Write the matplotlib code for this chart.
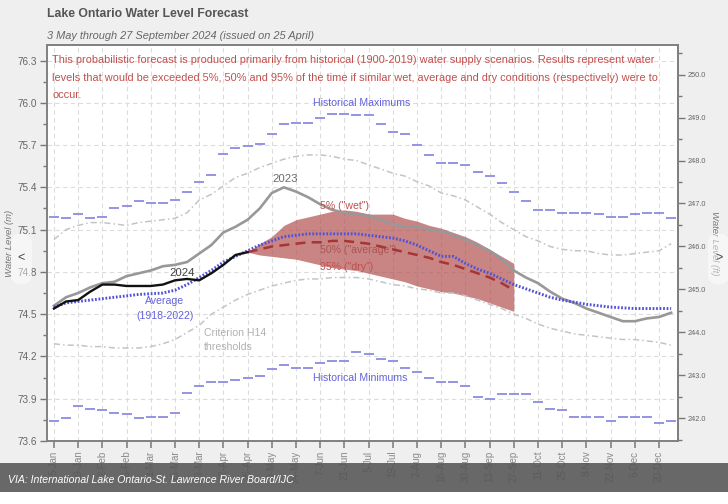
import matplotlib
matplotlib.use("Agg")
import matplotlib.pyplot as plt
from matplotlib.patches import Rectangle, FancyBboxPatch
from matplotlib.ticker import FixedLocator, MultipleLocator, FormatStrFormatter
import numpy as np
import pandas as pd

plt.rcParams['font.family'] = ['Liberation Sans', 'DejaVu Sans']

# weekly points (Fridays of 2024)
weeks = pd.date_range('2024-01-05', periods=52, freq='7D')

hist_max = [75.19, 75.18, 75.21, 75.18, 75.19, 75.25, 75.27, 75.30, 75.29, 75.29,
            75.31, 75.37, 75.44, 75.49, 75.64, 75.68, 75.69, 75.71, 75.78, 75.85,
            75.86, 75.86, 75.89, 75.92, 75.92, 75.91, 75.91, 75.85, 75.79, 75.78,
            75.70, 75.63, 75.57, 75.57, 75.56, 75.51, 75.48, 75.43, 75.37, 75.30,
            75.24, 75.24, 75.22, 75.22, 75.22, 75.21, 75.19, 75.19, 75.21, 75.22,
            75.22, 75.18]
hist_min = [73.74, 73.76, 73.85, 73.83, 73.82, 73.80, 73.79, 73.76, 73.77, 73.77,
            73.80, 73.94, 73.99, 74.02, 74.02, 74.03, 74.05, 74.06, 74.11, 74.14,
            74.12, 74.12, 74.15, 74.17, 74.17, 74.23, 74.22, 74.18, 74.17, 74.12,
            74.09, 74.05, 74.02, 74.02, 73.99, 73.91, 73.90, 73.93, 73.93, 73.93,
            73.88, 73.83, 73.82, 73.77, 73.77, 73.77, 73.74, 73.77, 73.77, 73.77,
            73.73, 73.74]
h14_upper = [75.03, 75.10, 75.13, 75.15, 75.15, 75.14, 75.13, 75.15, 75.16, 75.17,
             75.18, 75.22, 75.31, 75.35, 75.41, 75.47, 75.50, 75.54, 75.57, 75.60,
             75.62, 75.63, 75.63, 75.62, 75.60, 75.59, 75.56, 75.53, 75.50, 75.48,
             75.44, 75.41, 75.36, 75.34, 75.31, 75.26, 75.21, 75.15, 75.10, 75.05,
             75.02, 74.98, 74.96, 74.95, 74.95, 74.93, 74.92, 74.92, 74.93, 74.94,
             74.95, 75.00]
h14_lower = [74.29, 74.28, 74.28, 74.27, 74.27, 74.26, 74.26, 74.26, 74.27, 74.29,
             74.32, 74.37, 74.42, 74.50, 74.55, 74.60, 74.64, 74.67, 74.70, 74.72,
             74.74, 74.75, 74.75, 74.76, 74.76, 74.76, 74.75, 74.73, 74.71, 74.70,
             74.68, 74.67, 74.65, 74.65, 74.63, 74.60, 74.57, 74.54, 74.50, 74.47,
             74.43, 74.40, 74.38, 74.36, 74.35, 74.34, 74.33, 74.32, 74.32, 74.31,
             74.30, 74.28]
avg_level = [74.55, 74.58, 74.59, 74.60, 74.61, 74.62, 74.63, 74.64, 74.645, 74.65,
             74.67, 74.71, 74.76, 74.81, 74.87, 74.91, 74.95, 74.99, 75.02, 75.05,
             75.06, 75.07, 75.07, 75.07, 75.07, 75.07, 75.06, 75.05, 75.04, 75.02,
             74.99, 74.95, 74.91, 74.91, 74.86, 74.82, 74.79, 74.75, 74.71, 74.68,
             74.65, 74.62, 74.60, 74.585, 74.57, 74.56, 74.55, 74.545, 74.54, 74.54,
             74.54, 74.54]
level_2023 = [74.56, 74.62, 74.65, 74.69, 74.72, 74.73, 74.77, 74.79, 74.81, 74.84,
              74.85, 74.87, 74.93, 74.99, 75.08, 75.12, 75.17, 75.25, 75.36, 75.40,
              75.37, 75.33, 75.28, 75.24, 75.22, 75.21, 75.20, 75.17, 75.14, 75.12,
              75.12, 75.10, 75.09, 75.06, 75.03, 74.99, 74.95, 74.89, 74.81, 74.76,
              74.72, 74.66, 74.61, 74.58, 74.54, 74.51, 74.48, 74.45, 74.45, 74.47,
              74.48, 74.51]
# observed 2024, 5 Jan - 26 Apr
level_2024 = [74.54, 74.59, 74.60, 74.66, 74.71, 74.71, 74.70, 74.70, 74.70, 74.71,
              74.74, 74.75, 74.74, 74.79, 74.85, 74.92, 74.94]
# forecast, 26 Apr - 27 Sep
fc_wet = [74.94, 75.00, 75.05, 75.13, 75.17, 75.19, 75.21, 75.23, 75.24, 75.23, 75.21, 75.21,
          75.21, 75.18, 75.16, 75.13, 75.11, 75.08, 75.05, 75.01, 74.96, 74.91, 74.86]
fc_avg = [74.94, 74.96, 74.98, 74.99, 75.00, 75.01, 75.01, 75.02, 75.02, 75.01, 75.00, 74.98,
          74.96, 74.94, 74.92, 74.90, 74.87, 74.85, 74.82, 74.79, 74.76, 74.72, 74.67]
fc_dry = [74.94, 74.92, 74.91, 74.90, 74.89, 74.87, 74.85, 74.83, 74.82, 74.81, 74.79, 74.77,
          74.75, 74.73, 74.70, 74.68, 74.66, 74.65, 74.63, 74.61, 74.58, 74.55, 74.52]

tick_labels = ['5-Jan', '19-Jan', '2-Feb', '16-Feb', '1-Mar', '15-Mar', '29-Mar', '12-Apr',
               '26-Apr', '10-May', '24-May', '7-Jun', '21-Jun', '5-Jul', '19-Jul', '2-Aug',
               '16-Aug', '30-Aug', '13-Sep', '27-Sep', '11-Oct', '25-Oct', '8-Nov', '22-Nov',
               '6-Dec', '20-Dec']

note = ("This probabilistic forecast is produced primarily from historical (1900-2019) water supply scenarios. "
        "Results represent water\nlevels that would be exceeded 5%, 50% and 95% of the time if similar wet, "
        "average and dry conditions (respectively) were to\noccur.")

RED = '#c0504d'
BLUE = '#6262dc'
LAV = '#9494e4'

fig = plt.figure(figsize=(7.28, 5.04), dpi=100, facecolor='#efefef')
ax = fig.add_axes([0.0646, 0.125, 0.8668, 0.7857])

n24 = len(level_2024)
fc_weeks = weeks[n24 - 1:n24 - 1 + len(fc_wet)]

ax.plot(weeks, hist_max, ls='none', marker='_', ms=6.5, mew=1.4, color=LAV, zorder=3)
ax.plot(weeks, hist_min, ls='none', marker='_', ms=6.5, mew=1.4, color=LAV, zorder=3)
ax.plot(weeks, h14_upper, color='#c4c4c4', lw=1.1, ls=(0, (4, 2, 1, 2)), zorder=3)
ax.plot(weeks, h14_lower, color='#c4c4c4', lw=1.1, ls=(0, (4, 2, 1, 2)), zorder=3)

ax.text(pd.Timestamp('2024-06-07'), 74.955, '50% ("average")', color='#9c6c6c',
        fontsize=7.6, va='center', ha='left', zorder=1)
ax.fill_between(fc_weeks, fc_dry, fc_wet, color='#b04a4a', alpha=0.68, lw=0, zorder=2)

ax.plot(weeks, level_2023, color='#989898', lw=1.9, zorder=4)
ax.plot(weeks, avg_level, color='#5050d8', lw=2.1, ls=(0, (0.6, 0.6)), zorder=5)
ax.plot(fc_weeks, fc_avg, color='#a83535', lw=1.8, ls=(0, (4, 2.5)), zorder=6)
ax.plot(weeks[:n24], level_2024, color='#111111', lw=1.7, zorder=7)

ax.set_xlim(pd.Timestamp('2024-01-01'), pd.Timestamp('2024-12-31'))
ax.set_ylim(73.6, 76.41)

ax.set_xticks(weeks[::2])
ax.set_xticklabels(tick_labels)
ax.yaxis.set_major_locator(FixedLocator(np.arange(73.6, 76.35, 0.3)))
ax.yaxis.set_minor_locator(FixedLocator(np.arange(73.75, 76.41, 0.3)))
ax.yaxis.set_major_formatter(FormatStrFormatter('%.1f'))

ax.grid(True, color='#dcdcdc', ls=(0, (4, 3)), lw=0.8, zorder=0)
ax.set_axisbelow(True)
for s in ax.spines.values():
    s.set_color('#808080')
    s.set_linewidth(1.4)
ax.tick_params(axis='x', length=5, width=1.1, color='#777777', labelsize=7,
               labelcolor='#8a8a8a', labelrotation=90, pad=2)
ax.tick_params(axis='y', which='major', length=5, width=1.0, color='#777777',
               labelsize=7.2, labelcolor='#666666', pad=2)
ax.tick_params(axis='y', which='minor', length=3, width=1.0, color='#777777')
ax.set_ylabel('Water Level (m)', fontsize=6.8, style='italic', color='#777777', labelpad=3)

sec = ax.secondary_yaxis('right', functions=(lambda m: m / 0.3048, lambda f: f * 0.3048))
sec.yaxis.set_major_locator(MultipleLocator(1.0))
sec.yaxis.set_minor_locator(MultipleLocator(0.5))
sec.yaxis.set_major_formatter(FormatStrFormatter('%.1f'))
sec.spines['right'].set_color('#808080')
sec.spines['right'].set_linewidth(1.4)
sec.tick_params(axis='y', which='major', length=5, width=1.0, color='#777777',
                labelsize=5.3, labelcolor='#666666', pad=2)
sec.tick_params(axis='y', which='minor', length=3, width=1.0, color='#777777')
sec.set_ylabel('Water Level (ft)', fontsize=6.8, style='italic', color='#777777',
               rotation=270, labelpad=9)

# annotations
ax.text(0.008, 0.975, note, transform=ax.transAxes, color=RED, fontsize=7.9,
        va='top', ha='left', linespacing=1.95)
ax.text(pd.Timestamp('2024-07-01'), 76.0, 'Historical Maximums', color=BLUE,
        fontsize=7.6, ha='center', va='center')
ax.text(pd.Timestamp('2024-06-30'), 74.045, 'Historical Minimums', color=BLUE,
        fontsize=7.6, ha='center', va='center')
ax.text(pd.Timestamp('2024-05-18'), 75.456, '2023', color='#6a6a6a', fontsize=8.2,
        ha='center', va='center')
ax.text(pd.Timestamp('2024-03-19'), 74.79, '2024', color='#444444', fontsize=8.2,
        ha='center', va='center')
ax.text(pd.Timestamp('2024-03-09'), 74.54, 'Average\n(1918-2022)', color=BLUE,
        fontsize=7.6, ha='center', va='center', linespacing=1.6)
ax.text(pd.Timestamp('2024-04-01'), 74.315, 'Criterion H14\nthresholds', color='#b0b0b0',
        fontsize=7.6, ha='left', va='center', linespacing=1.55)
ax.text(pd.Timestamp('2024-06-07'), 75.27, '5% ("wet")', color=RED, fontsize=7.6,
        ha='left', va='center', zorder=8)
ax.text(pd.Timestamp('2024-06-07'), 74.836, '95% ("dry")', color=RED, fontsize=7.6,
        ha='left', va='center', zorder=8)

# titles
fig.text(47 / 728, 1 - 14 / 504, 'Lake Ontario Water Level Forecast', fontsize=8.8,
         fontweight='bold', color='#555555', va='center', ha='left')
fig.text(47 / 728, 1 - 36 / 504, '3 May through 27 September 2024 (issued on 25 April)',
         fontsize=7.9, style='italic', color='#666666', va='center', ha='left')

# carousel arrows
for x0, ch in ((11 / 728, '<'), (708 / 728, '>')):
    fig.patches.append(FancyBboxPatch((x0, 1 - 285 / 504), 21 / 728, 52 / 504,
                                      boxstyle='round,pad=0,rounding_size=0.02',
                                      transform=fig.transFigure, fc='white', ec='none',
                                      alpha=0.45, zorder=11))
    fig.text(x0 + 10.5 / 728, 1 - 258 / 504, ch, fontsize=9, color='#444444',
             ha='center', va='center', zorder=12)

# source banner
fig.patches.append(Rectangle((0, 12 / 504), 1, 29 / 504, transform=fig.transFigure,
                             fc='#555555', ec='none', alpha=0.88, zorder=10))
fig.patches.append(Rectangle((0, 0), 1, 12 / 504, transform=fig.transFigure,
                             fc='white', ec='none', zorder=10))
fig.text(8 / 728, 1 - 480 / 504, 'VIA: International Lake Ontario-St. Lawrence River Board/IJC',
         fontsize=7.6, style='italic', color='white', va='center', ha='left', zorder=12)

fig.savefig('out.png', dpi=100, facecolor=fig.get_facecolor())
